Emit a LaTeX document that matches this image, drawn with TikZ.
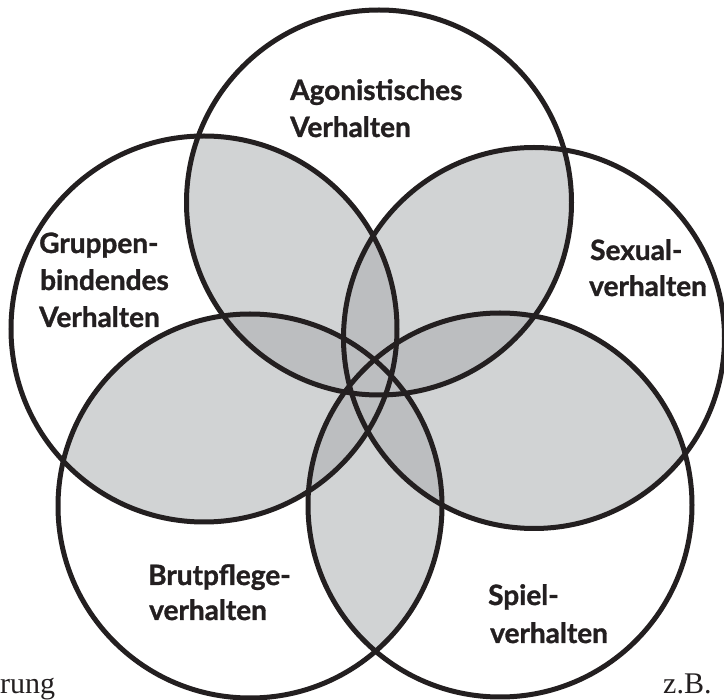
\documentclass[tikz,border=0pt]{standalone}
\usepackage{fontspec}
\newfontfamily\labfont{Lato}[BoldFeatures={FakeBold=1.2}]
\newfontfamily\serfont{Liberation Serif}
\definecolor{petal}{HTML}{D1D3D4}
\definecolor{petaldark}{HTML}{BCBEC0}
\definecolor{ink}{HTML}{231F20}
\tikzset{
  lab/.style={font=\labfont\bfseries\fontsize{28}{32}\selectfont, text=ink, inner sep=0pt, anchor=base west},
  ser/.style={font=\serfont\fontsize{30}{34}\selectfont, text=ink, inner sep=0pt, anchor=base west},
  ring/.style={draw=ink, line width=5pt}
}
\begin{document}
\begin{tikzpicture}[x=1pt,y=-1pt]
\useasboundingbox (0,0) rectangle (724,700);
\coordinate (cA) at (379,202.5); \def\rA{192.5pt}
\coordinate (cB) at (204,329);   \def\rB{193pt}
\coordinate (cC) at (534,338);   \def\rC{190.5pt}
\coordinate (cD) at (250,506);   \def\rD{192pt}
\coordinate (cE) at (500,505);   \def\rE{192pt}
% pairwise overlaps
\foreach \p/\q in {A/B,A/C,A/D,A/E,B/C,B/D,B/E,C/D,C/E,D/E}{
  \begin{scope}
    \clip (c\p) circle[radius=\csname r\p\endcsname];
    \fill[petal] (c\q) circle[radius=\csname r\q\endcsname];
  \end{scope}
}
% triple overlaps
\foreach \p/\q/\s in {A/B/C,A/B/D,A/B/E,A/C/D,A/C/E,A/D/E,B/C/D,B/C/E,B/D/E,C/D/E}{
  \begin{scope}
    \clip (c\p) circle[radius=\csname r\p\endcsname];
    \clip (c\q) circle[radius=\csname r\q\endcsname];
    \fill[petaldark] (c\s) circle[radius=\csname r\s\endcsname];
  \end{scope}
}
\foreach \p in {A,B,C,D,E}{
  \draw[ring] (c\p) circle[radius=\csname r\p\endcsname];
}
% labels
\node[lab] (a1) at (290,100) {Agonistisches};
\node[lab] (a2) at (290,137) {Verhalten};
\node[lab] (b1) at (39,253) {Gruppen-};
\node[lab] (b2) at (40,290) {bindendes};
\node[lab] (b3) at (39,327) {Verhalten};
\node[lab] (c1) at (590,260) {Sexual-};
\node[lab] (c2) at (589,296) {verhalten};
\node[lab] (d1) at (148,585) {Brutpflege-};
\node[lab] (d2) at (149,620) {verhalten};
\node[lab] (e1) at (488,605) {Spiel-};
\node[lab] (e2) at (490,643) {verhalten};
\node[ser] (s1) at (0,694) {rung};
\node[ser] (s2) at (663,694) {z.B.};
\end{tikzpicture}
\end{document}
